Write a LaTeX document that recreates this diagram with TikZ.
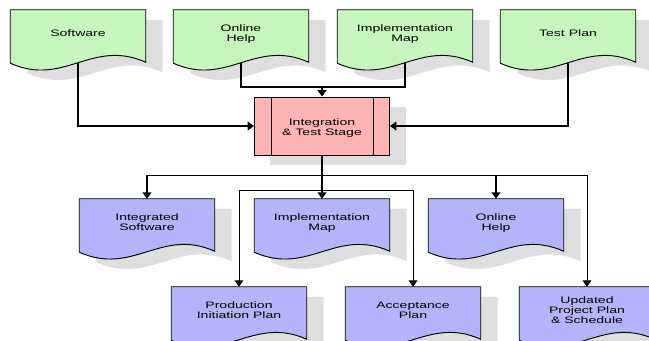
\documentclass[tikz,border=0pt]{standalone}
\usepackage{fontspec}
\setmainfont{Liberation Sans}
\usepackage{graphicx}
\usetikzlibrary{calc, backgrounds, arrows.meta}

\definecolor{docgreen}{RGB}{198,245,190}
\definecolor{docblue}{RGB}{180,180,250}
\definecolor{stagepink}{RGB}{255,180,180}
\definecolor{shadowgray}{RGB}{222,222,222}

% wide text, as in the stretched original
\newcommand\wtext[1]{\raisebox{-2.5pt}[\height][\depth]{\scalebox{1.5}[1]{\begin{tabular}{@{}c@{}}#1\end{tabular}}}}
% document outline round a node: name, x offset, y offset
\newcommand\docpath[3]{($(#1.north west)+(#2,#3)$) -- ($(#1.north east)+(#2,#3)$)
    -- ($(#1.south east)+(#2,#3+8)$) .. controls +(-54,-24) and +(54,24) .. ($(#1.south west)+(#2,#3+9)$) -- cycle}

\begin{document}
\begin{tikzpicture}[x=0.03cm, y=-0.03cm,
    doc/.style={minimum width=4.05cm, minimum height=1.32cm, inner sep=0pt, font=\fontsize{8}{8.5}\selectfont},
    stage/.style={draw, line width=0.8pt, fill=stagepink, minimum width=4.05cm, minimum height=1.74cm,
        inner sep=0pt, font=\fontsize{8}{8.5}\selectfont},
    flow/.style={line width=1.5pt},
    thinflow/.style={line width=0.8pt},
    >={Triangle[width=7.5pt,length=5.5pt]}]

    \useasboundingbox (0,0) rectangle (649,341);

    % INPUT DOCUMENTS
    \node[doc] (sw) at (78,32) {\wtext{Software}};
    \node[doc] (oh) at (241,32) {\wtext{Online\\Help}};
    \node[doc] (im) at (405,32) {\wtext{Implementation\\Map}};
    \node[doc] (tp) at (568,32) {\wtext{Test Plan}};

    % STAGE
    \node[stage] (st) at (322,126) {\wtext{Integration\\\& Test Stage}};
    \draw[line width=0.8pt] ($(st.north west)+(17,0)$) -- ($(st.south west)+(17,0)$);
    \draw[line width=0.8pt] ($(st.north east)+(-17,0)$) -- ($(st.south east)+(-17,0)$);

    % OUTPUT DOCUMENTS
    \node[doc] (isw) at (147,221) {\wtext{Integrated\\Software}};
    \node[doc] (im2) at (322,221) {\wtext{Implementation\\Map}};
    \node[doc] (oh2) at (496,221) {\wtext{Online\\Help}};
    \node[doc] (pip) at (239,309) {\wtext{Production\\Initiation Plan}};
    \node[doc] (acc) at (413,309) {\wtext{Acceptance\\Plan}};
    \node[doc] (upd) at (587,309) {\wtext{Updated\\Project Plan\\\& Schedule}};

    % SHAPES AND SHADOWS
    \begin{scope}[on background layer]
        \foreach \n in {sw,oh,im,tp,isw,im2,oh2,pip,acc,upd}
            \fill[shadowgray] \docpath{\n}{17}{10};
        \fill[shadowgray] ($(st.north west)+(16,10)$) rectangle ($(st.south east)+(16,10)$);
        \foreach \n in {sw,oh,im,tp}
            \filldraw[fill=docgreen, line width=0.8pt] \docpath{\n}{0}{0};
        \foreach \n in {isw,im2,oh2,pip,acc,upd}
            \filldraw[fill=docblue, line width=0.8pt] \docpath{\n}{0}{0};
    \end{scope}

    % CONNECTORS
    \coordinate (topjoin) at (322,87);
    \coordinate (bus1) at (322,175);
    \coordinate (bus2) at (322,190);

    \draw[flow,->] ($(sw.south)+(0,8.5)$) |- (st.west);
    \draw[flow,->] ($(tp.south)+(0,8.5)$) |- (st.east);
    \draw[flow] ($(oh.south)+(0,8.5)$) |- (topjoin);
    \draw[flow] ($(im.south)+(0,8.5)$) |- (topjoin);
    \draw[flow,->] (topjoin) -- (st.north);

    \draw[flow,->] (st.south) -- (im2.north);
    \draw[thinflow] (bus1 -| isw.north) -- (bus1 -| upd.north);
    \draw[thinflow] (bus2 -| pip.north) -- (bus2 -| acc.north);
    \draw[flow,->] (bus1 -| isw.north) -- (isw.north);
    \draw[flow,->] (bus1 -| oh2.north) -- (oh2.north);
    \draw[thinflow,->] (bus1 -| upd.north) -- (upd.north);
    \draw[thinflow,->] (bus2 -| pip.north) -- (pip.north);
    \draw[thinflow,->] (bus2 -| acc.north) -- (acc.north);
\end{tikzpicture}
\end{document}
